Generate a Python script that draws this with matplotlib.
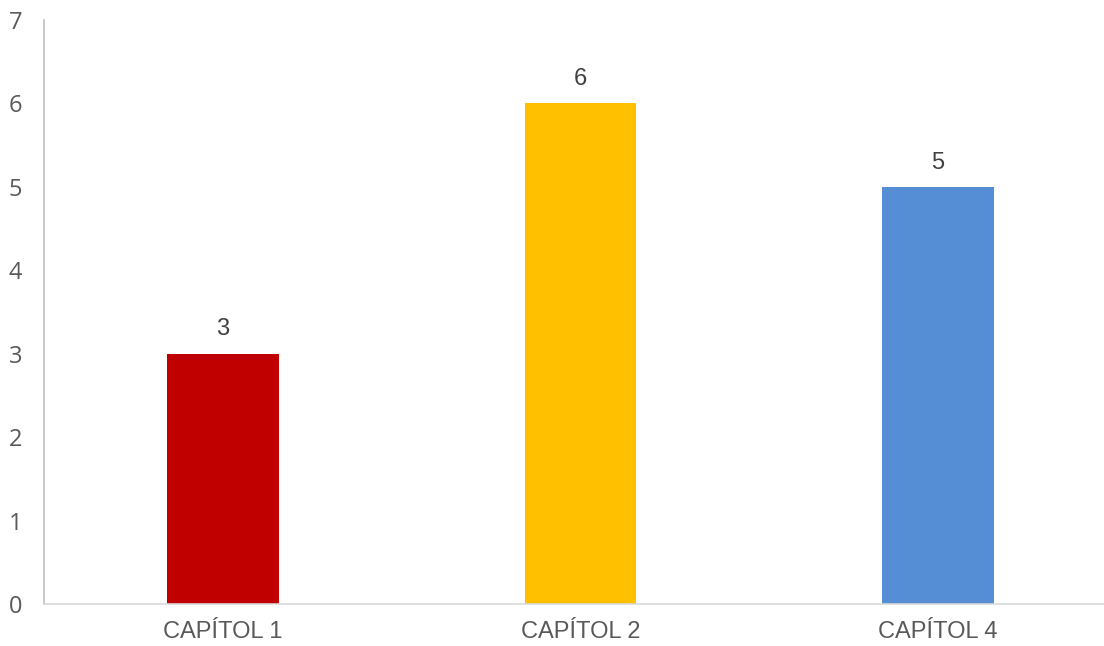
import matplotlib
matplotlib.use('Agg')
import matplotlib.pyplot as plt

categories = ['CAPÍTOL 1', 'CAPÍTOL 2', 'CAPÍTOL 4']
values = [3, 6, 5]
colors = ['#C00000', '#FFC000', '#558ED5']
yticks = [0, 1, 2, 3, 4, 5, 6, 7]

fig = plt.figure(figsize=(11.04, 6.46), dpi=100)
ax = fig.add_axes([44.25/1104, 1-604/646, 1072.5/1104, 584/646])

x = range(len(categories))
ax.bar(x, values, width=0.313, color=colors, zorder=2)
for i, v in zip(x, values):
    ax.text(i, v + 0.16, str(v), ha='center', va='bottom', fontsize=17,
            color='#404040', family='Liberation Sans')

ax.set_xlim(-0.5, 2.5)
ax.set_ylim(0, 7)
ax.set_xticks(list(x))
ax.set_xticklabels(categories, fontsize=17, color='#595959', family='Liberation Sans')
ax.set_yticks(yticks)
ax.set_yticklabels([str(t) for t in yticks], fontsize=17, color='#595959', family='Open Sans')
ax.tick_params(axis='both', length=0)
ax.tick_params(axis='y', pad=16)
ax.tick_params(axis='x', pad=12)

for s in ['top', 'right']:
    ax.spines[s].set_visible(False)
ax.spines['left'].set_color('#BFBFBF')
ax.spines['bottom'].set_color('#D9D9D9')
ax.spines['left'].set_linewidth(1.2)
ax.spines['bottom'].set_linewidth(1.2)

fig.savefig('out.png', dpi=100)
